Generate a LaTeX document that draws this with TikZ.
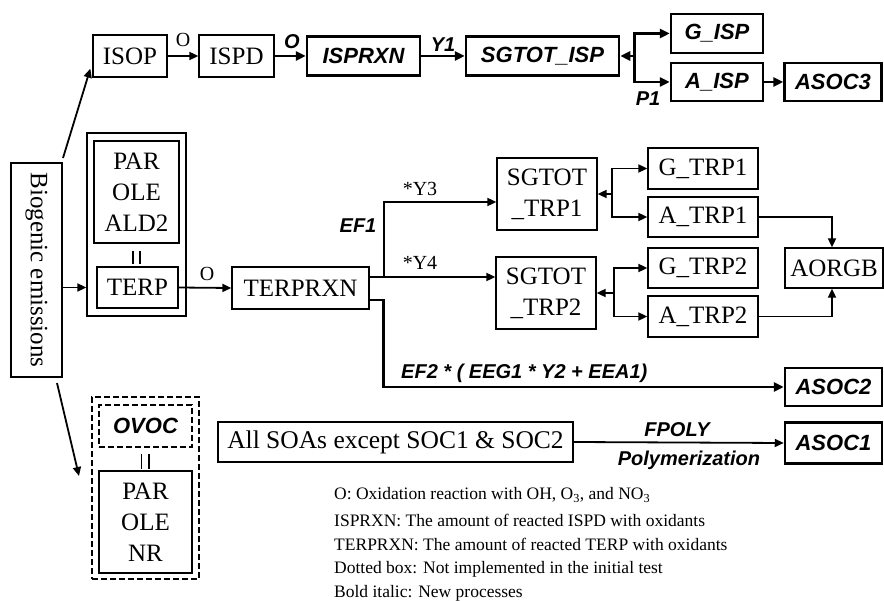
\documentclass[tikz,border=0pt]{standalone}
\usepackage{fontspec}
\usepackage{graphicx}
\setmainfont{Liberation Serif}
\setsansfont{Liberation Sans}
\usetikzlibrary{arrows.meta,calc}
\tikzset{
  box/.style={draw, line width=1.3pt, inner sep=0pt, align=center, font=\fontsize{25}{31}\selectfont},
  bbox/.style={draw, line width=2.5pt, inner sep=0pt, font=\fontsize{22}{26}\selectfont\sffamily\bfseries\itshape},
  dbox/.style={draw, line width=1.4pt, dash pattern=on 6pt off 3pt, inner sep=0pt},
  arr/.style={-{Triangle[length=9pt,width=8pt]}, line width=1.8pt},
  barr/.style={-{Triangle[length=10pt,width=9pt]}, line width=2.6pt},
  lab/.style={font=\fontsize{20}{24}\selectfont, inner sep=0pt},
  blab/.style={font=\fontsize{20}{24}\selectfont\sffamily\bfseries\itshape, inner sep=0pt},
  legend/.style={font=\fontsize{17.5}{20}\selectfont, anchor=west, inner sep=0pt},
  eqmark/.style={line width=1.6pt}
}
\begin{document}
\begin{tikzpicture}[x=1pt,y=-1pt]
\useasboundingbox (0,0) rectangle (884,601);

% ---------- top row ----------
\node[box, minimum width=74pt, minimum height=42pt] (isop) at (130,56) {ISOP};
\node[box, minimum width=75pt, minimum height=42pt] (ispd) at (236.5,56) {ISPD};
\node[bbox, minimum width=113pt, minimum height=39pt] (isprxn) at (363.5,56) {ISPRXN};
\node[bbox, minimum width=153pt, minimum height=39pt] (sgisp) at (542.5,56) {SGTOT\_ISP};
\node[bbox, minimum width=92pt, minimum height=39pt] (gisp) at (717,33.5) {G\_ISP};
\node[bbox, minimum width=92pt, minimum height=38pt] (aisp) at (717,82) {A\_ISP};
\node[bbox, minimum width=97pt, minimum height=38pt] (asoc3) at (833,82) {ASOC3};

\draw[arr] (isop.east) -- (ispd.west);
\node[lab] (lo1) at (183,40) {O};
\draw[barr] (ispd.east) -- (isprxn.west);
\node[blab] (lo2) at (292,42) {O};
\draw[barr] (isprxn.east) -- (sgisp.west);
\node[blab] (ly1) at (443,45) {Y1};
\coordinate (j1) at ($(sgisp.east)+(14,0)$);
\draw[barr] (j1) -- (sgisp.east);
\draw[barr] (j1) |- (gisp.west);
\draw[barr] (j1) |- (aisp.west);
\node[blab] (lp1) at (648,99) {P1};
\draw[barr] (aisp.east) -- (asoc3.west);

% ---------- biogenic emissions ----------
\node[box, minimum width=51pt, minimum height=214pt] (bio) at (36.5,270) {\rotatebox{-90}{Biogenic emissions}};
\coordinate (bu1) at (63,158);
\coordinate (bu2) at ($(isop.south west)+(-2,-9)$);
\draw[arr] (bu1) -- (bu2);
\coordinate (bd1) at (57,383);
\coordinate (bd2) at (79,476);
\draw[arr] (bd1) -- (bd2);

% ---------- terpene group ----------
\node[box, minimum width=99pt, minimum height=183pt] (outer) at (136.5,224.5) {};
\node[box, minimum width=85pt, minimum height=102pt] (parbox) at (136.5,192) {PAR\\OLE\\ALD2};
\node[box, minimum width=81pt, minimum height=41pt] (terp) at (137.5,287.5) {TERP};
\draw[eqmark] ([xshift=-3.5pt,yshift=-7pt]parbox.south) -- ++(0,13);
\draw[eqmark] ([xshift=3.5pt,yshift=-7pt]parbox.south) -- ++(0,13);
\draw[arr] (bio.east |- terp.west) -- (outer.west |- terp.west);

\node[box, minimum width=137pt, minimum height=42pt] (terprxn) at (300.5,288) {TERPRXN};
\draw[arr] (terp.east) -- (terprxn.west);
\node[lab] (lo3) at (207,274) {O};

\node[box, minimum width=100pt, minimum height=72pt] (sgtrp1) at (547,194) {SGTOT\\\_TRP1};
\node[box, minimum width=100pt, minimum height=72pt] (sgtrp2) at (546,293) {SGTOT\\\_TRP2};
\node[box, minimum width=110pt, minimum height=41pt] (gtrp1) at (703,168.5) {G\_TRP1};
\node[box, minimum width=110pt, minimum height=40pt] (atrp1) at (703,217) {A\_TRP1};
\node[box, minimum width=110pt, minimum height=40pt] (gtrp2) at (703,268) {G\_TRP2};
\node[box, minimum width=110pt, minimum height=41pt] (atrp2) at (703,316.5) {A\_TRP2};
\node[box, minimum width=98pt, minimum height=40pt] (aorgb) at (834,268) {AORGB};

\coordinate (ts) at ([yshift=11pt]terprxn.east);
\coordinate (tj) at ($(ts)+(14,0)$);
\draw[arr] (ts) -- ([yshift=16pt]sgtrp2.west);
\draw[arr] (tj) |- ([yshift=-8pt]sgtrp1.west);
\node[lab] (ly3) at (420,189) {*Y3};
\node[lab] (ly4) at (420,263) {*Y4};
\node[blab] (lef1) at (358,226) {EF1};

\coordinate (j2) at ($(sgtrp1.east)+(14,0)$);
\draw[arr] (j2) -- (sgtrp1.east);
\draw[arr] (j2) |- (gtrp1.west);
\draw[arr] (j2) |- (atrp1.west);
\coordinate (j3) at ($(sgtrp2.east)+(17,0)$);
\draw[arr] (j3) -- (sgtrp2.east);
\draw[arr] (j3) |- (gtrp2.west);
\draw[arr] (j3) |- (atrp2.west);
\draw[arr] (atrp1.east) -| ([xshift=-2pt]aorgb.north);
\draw[arr] (atrp2.east) -| ([xshift=-2pt]aorgb.south);

% ---------- EF2 path ----------
\node[bbox, minimum width=97pt, minimum height=38pt] (asoc2) at (833.5,387) {ASOC2};
\draw[barr] ([yshift=-12pt]terprxn.east) -- ++(14,0) |- (asoc2.west);
\node[blab, anchor=west] (lef2) at (401,373) {EF2 * ( EEG1 * Y2 + EEA1)};

% ---------- OVOC group ----------
\node[dbox, minimum width=107pt, minimum height=182pt] (dout) at (145.5,488) {};
\node[dbox, minimum width=93pt, minimum height=42pt, font=\fontsize{22}{26}\selectfont\sffamily\bfseries\itshape] (ovoc) at (145.5,426) {OVOC};
\node[box, minimum width=93pt, minimum height=102pt] (parnr) at (145.5,522) {PAR\\OLE\\NR};
\draw[eqmark] ([xshift=-4pt,yshift=-6pt]ovoc.south) -- ++(0,15);
\draw[eqmark] ([xshift=3.5pt,yshift=-6pt]ovoc.south) -- ++(0,15);

% ---------- polymerization ----------
\node[box, minimum width=355pt, minimum height=40pt, font=\fontsize{25.5}{30}\selectfont] (allsoa) at (395.5,442) {All SOAs except SOC1 \& SOC2};
\node[bbox, minimum width=97pt, minimum height=41pt] (asoc1) at (833.5,443) {ASOC1};
\draw[arr] (allsoa.east) -- (asoc1.west);
\node[blab] (lfp) at (677,430) {FPOLY};
\node[blab] (lpoly) at (689,460) {Polymerization};

% ---------- legend ----------
\node[legend] (lg1) at (334,495) {O: Oxidation reaction with OH, O\textsubscript{3}, and NO\textsubscript{3}};
\node[legend] (lg2) at (334,520) {ISPRXN: The amount of reacted ISPD with oxidants};
\node[legend] (lg3) at (334,544) {TERPRXN: The amount of reacted TERP with oxidants};
\node[legend] (lg4) at (334,569) {Dotted box: Not implemented in the initial test};
\node[legend] (lg5) at (334,593) {Bold italic: New processes};
\end{tikzpicture}
\end{document}
